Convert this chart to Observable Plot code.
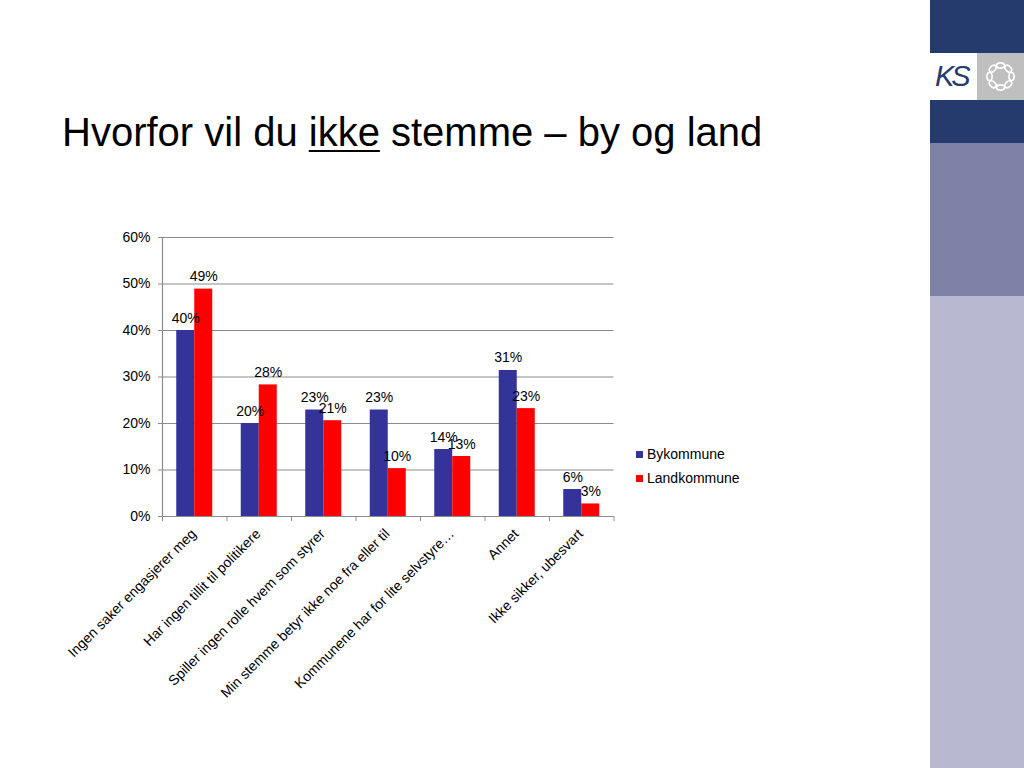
<!DOCTYPE html>
<html>
<head>
<meta charset="utf-8">
<script src="https://cdn.jsdelivr.net/npm/d3@7"></script>
<script src="https://cdn.jsdelivr.net/npm/@observablehq/plot@0.6"></script>
<style>
  body { margin: 0; background: #fff; font-family: "Liberation Sans", Arial, sans-serif; }
  #page { position: relative; width: 1024px; height: 768px; overflow: hidden; background: #fff; }
  #chart { position: absolute; left: 0; top: 0; }
  #title { position: absolute; left: 62px; top: 110px; font-size: 40px; color: #000; white-space: nowrap; line-height: normal; }
  #title u { text-decoration-thickness: 2px; text-underline-offset: 4px; }
  .legend { position: absolute; left: 636px; font-size: 14px; color: #000; white-space: nowrap; }
  .legend .sw { display: inline-block; width: 7px; height: 7px; margin-right: 4px; vertical-align: 1px; }
  #side { position: absolute; left: 930px; top: 0; width: 94px; height: 768px; }
  #side div { position: absolute; left: 0; width: 94px; }
</style>
</head>
<body>
<div id="page">
  <div id="chart"></div>
  <div id="title">Hvorfor vil du <u>ikke</u> stemme – by og land</div>
  <div id="legend"></div>
  <div id="side">
    <div style="top:0;height:53px;background:#253a6d"></div>
    <div style="top:53px;height:47px;background:#fff"></div>
    <div style="top:53px;left:47px;width:47px;height:47px;background:#bfbfbf"></div>
    <div style="top:60px;left:5px;width:42px;font:italic 29px 'Liberation Sans',Arial,sans-serif;color:#253a6d;letter-spacing:-3px">KS</div>
    <div style="top:100px;height:43px;background:#253a6d"></div>
    <div style="top:143px;height:153px;background:#7e81a6"></div>
    <div style="top:296px;height:472px;background:#b8b9d0"></div>
  </div>
</div>
<script>
// ---- data ----
const categories = [
  "Ingen saker engasjerer meg",
  "Har ingen tillit til politikere",
  "Spiller ingen rolle hvem som styrer",
  "Min stemme betyr ikke noe fra eller til",
  "Kommunene har for lite selvstyre…",
  "Annet",
  "Ikke sikker, ubesvart"
];
const seriesNames = ["Bykommune", "Landkommune"];
const seriesColors = ["#333399", "#ff0000"];
const bykommune   = [40.0, 20.0, 22.9, 22.9, 14.4, 31.4, 5.8];
const landkommune = [48.9, 28.3, 20.6, 10.3, 12.9, 23.2, 2.7];
const yTicks = [0, 10, 20, 30, 40, 50, 60];

// ---- build table ----
const rows = [];
categories.forEach((c, i) => {
  rows.push({cat: c, series: seriesNames[0], value: bykommune[i]});
  rows.push({cat: c, series: seriesNames[1], value: landkommune[i]});
});

const W = 1024, H = 768;
const mL = 162, mR = 410.5, mT = 237, mB = 252;
const bw = (W - mL - mR) / categories.length;
const barW = 18;
const side = (bw - 2 * barW) / 2;
const grid = "#8c8c8c";
const fmt = d => Math.round(d) + "%";

const byRows = rows.filter(d => d.series === seriesNames[0]);
const landRows = rows.filter(d => d.series === seriesNames[1]);

const chart = Plot.plot({
  width: W, height: H,
  marginLeft: mL, marginRight: mR, marginTop: mT, marginBottom: mB,
  style: {fontFamily: "'Liberation Sans', Arial, sans-serif", fontSize: "14px", color: "#000", background: "transparent"},
  x: {type: "band", domain: categories, paddingInner: 0, paddingOuter: 0, round: false, axis: null},
  y: {domain: [0, 60], axis: null},
  marks: [
    Plot.ruleY(yTicks, {y: d => d, stroke: grid, strokeWidth: 1.2}),
    Plot.ruleX([categories[0]], {x: d => d, dx: -bw / 2, y1: 0, y2: 60, stroke: grid, strokeWidth: 1.2}),
    Plot.axisY({ticks: yTicks, tickFormat: d => d + "%", tickSize: 4, tickPadding: 8, stroke: grid, label: null, fontSize: 14}),
    Plot.axisX({tickSize: 5, dx: -bw / 2, tickFormat: () => "", stroke: grid, label: null}),
    Plot.axisX({ticks: [categories[categories.length - 1]], tickSize: 5, dx: bw / 2, tickFormat: () => "", stroke: grid, label: null}),
    Plot.axisX({tickSize: 0, tickRotate: -45, tickPadding: 15, dx: -1, label: null, fontSize: 14}),
    Plot.barY(byRows, {x: "cat", y: "value", fill: seriesColors[0], insetLeft: side, insetRight: side + barW}),
    Plot.barY(landRows, {x: "cat", y: "value", fill: seriesColors[1], insetLeft: side + barW, insetRight: side}),
    Plot.text(byRows, {x: "cat", y: "value", text: d => fmt(d.value), dx: -barW / 2, dy: -8, lineAnchor: "bottom", fill: "#000", fontSize: 14}),
    Plot.text(landRows, {x: "cat", y: "value", text: d => fmt(d.value), dx: barW / 2, dy: -8, lineAnchor: "bottom", fill: "#000", fontSize: 14})
  ]
});
document.getElementById("chart").appendChild(chart);

// ---- legend ----
const legend = document.getElementById("legend");
seriesNames.forEach((name, i) => {
  const el = document.createElement("div");
  el.className = "legend";
  el.style.top = (446 + i * 24) + "px";
  el.innerHTML = `<span class="sw" style="background:${seriesColors[i]}"></span>${name}`;
  legend.appendChild(el);
});

// ---- KS chain-ring logo (decoration) ----
const ns = "http://www.w3.org/2000/svg";
const logo = document.createElementNS(ns, "svg");
logo.setAttribute("width", 47); logo.setAttribute("height", 47);
logo.style.position = "absolute"; logo.style.left = "977px"; logo.style.top = "53px";
for (let k = 0; k < 8; k++) {
  const a = k * Math.PI / 4;
  const cx = 23.5 + 11 * Math.cos(a), cy = 23.5 + 11 * Math.sin(a);
  const e = document.createElementNS(ns, "ellipse");
  e.setAttribute("cx", cx); e.setAttribute("cy", cy);
  e.setAttribute("rx", 4); e.setAttribute("ry", 2.6);
  e.setAttribute("transform", `rotate(${k * 45 + 90} ${cx} ${cy})`);
  e.setAttribute("fill", "none"); e.setAttribute("stroke", "#fff"); e.setAttribute("stroke-width", 1.6);
  logo.appendChild(e);
}
document.getElementById("page").appendChild(logo);
</script>
</body>
</html>
